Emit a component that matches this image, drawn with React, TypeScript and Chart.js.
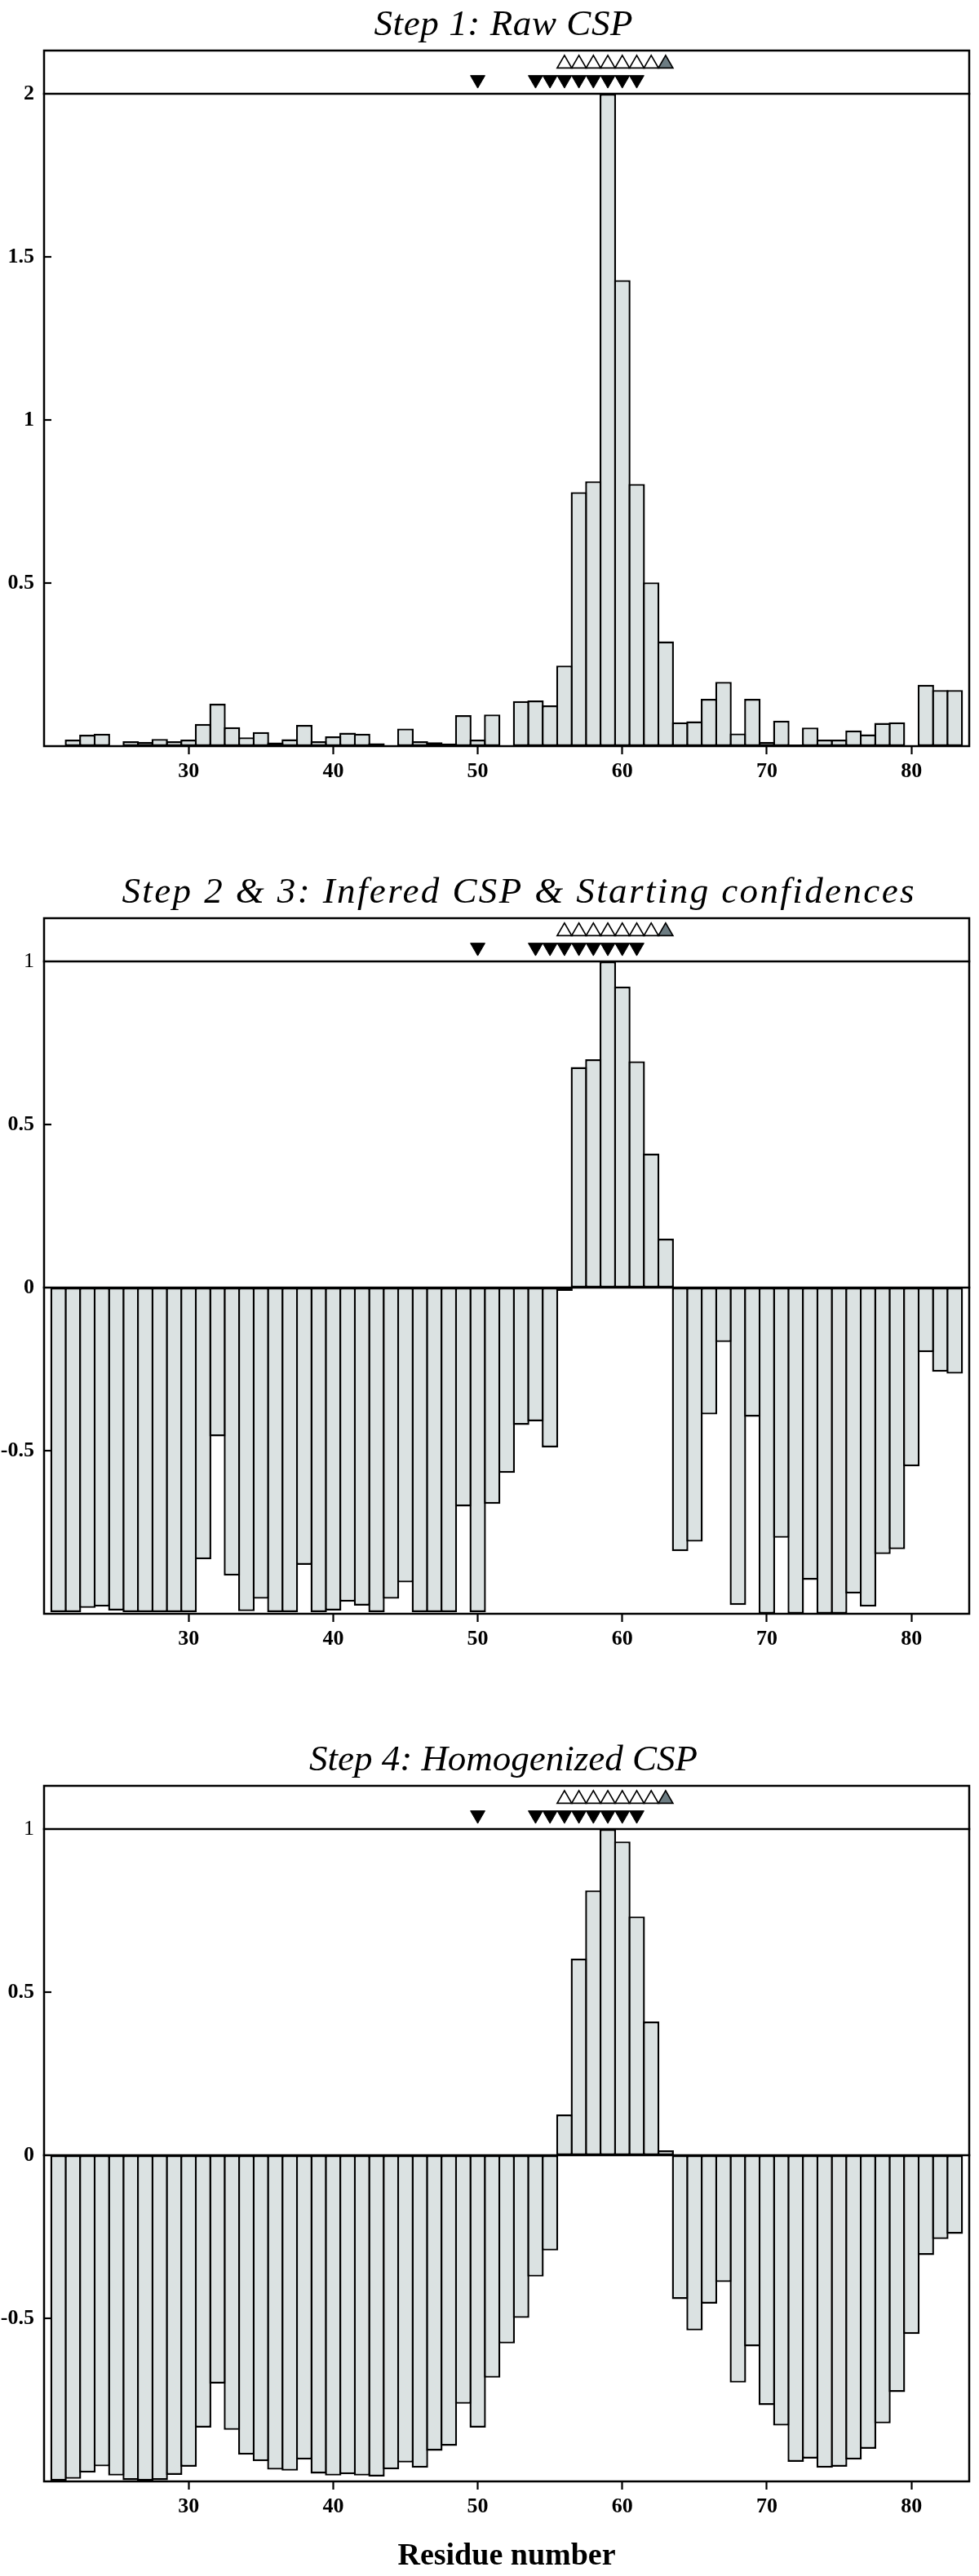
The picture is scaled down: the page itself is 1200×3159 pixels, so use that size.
import React, { useEffect, useRef } from 'react';
import { Chart, registerables } from 'chart.js';

Chart.register(...registerables);

// ---------------- data ----------------
const RESIDUES = [
  21, 22, 23, 24, 25, 26, 27, 28, 29, 30,
  31, 32, 33, 34, 35, 36, 37, 38, 39, 40,
  41, 42, 43, 44, 45, 46, 47, 48, 49, 50,
  51, 52, 53, 54, 55, 56, 57, 58, 59, 60,
  61, 62, 63, 64, 65, 66, 67, 68, 69, 70,
  71, 72, 73, 74, 75, 76, 77, 78, 79, 80,
  81, 82, 83,
];

// Step 1: raw chemical shift perturbation (null = no data)
const RAW_CSP: (number | null)[] = [
  null, 0.020, 0.035, 0.038, null, 0.015, 0.013, 0.022, 0.015, 0.020,
  0.068, 0.130, 0.058, 0.027, 0.043, 0.011, 0.021, 0.065, 0.015, 0.030,
  0.041, 0.038, 0.009, null, 0.054, 0.015, 0.012, 0.008, 0.095, 0.020,
  0.097, null, 0.138, 0.140, 0.125, 0.247, 0.779, 0.812, 2.000, 1.429,
  0.804, 0.502, 0.321, 0.073, 0.076, 0.145, 0.197, 0.039, 0.145, 0.013,
  0.078, 0.005, 0.057, 0.020, 0.020, 0.048, 0.036, 0.071, 0.073, null,
  0.188, 0.172, 0.172,
];

// Step 2 & 3: inferred CSP & starting confidences
const INFERRED_CSP: number[] = [
  -0.995, -0.995, -0.982, -0.978, -0.990, -0.995, -0.995, -0.995, -0.995, -0.995,
  -0.833, -0.456, -0.883, -0.992, -0.954, -0.995, -0.995, -0.850, -0.995, -0.990,
  -0.963, -0.975, -0.995, -0.954, -0.904, -0.995, -0.995, -0.995, -0.671, -0.995,
  -0.663, -0.568, -0.421, -0.410, -0.490, -0.010, 0.676, 0.700, 1.000, 0.923,
  0.694, 0.411, 0.150, -0.808, -0.779, -0.389, -0.167, -0.973, -0.396, -1.000,
  -0.767, -1.000, -0.896, -1.000, -1.000, -0.938, -0.978, -0.817, -0.802, -0.548,
  -0.198, -0.258, -0.264,
];

// Step 4: homogenized CSP
const HOMOGENIZED_CSP: number[] = [
  -0.998, -0.992, -0.973, -0.954, -0.982, -0.996, -0.998, -0.996, -0.980, -0.955,
  -0.835, -0.700, -0.842, -0.918, -0.938, -0.964, -0.967, -0.933, -0.976, -0.982,
  -0.978, -0.982, -0.985, -0.963, -0.942, -0.958, -0.906, -0.891, -0.762, -0.835,
  -0.682, -0.577, -0.499, -0.372, -0.292, 0.125, 0.603, 0.812, 1.000, 0.962,
  0.732, 0.410, 0.015, -0.441, -0.537, -0.455, -0.389, -0.697, -0.586, -0.766,
  -0.829, -0.940, -0.930, -0.958, -0.955, -0.933, -0.900, -0.822, -0.726, -0.548,
  -0.306, -0.257, -0.241,
];

const X_TICKS = [30, 40, 50, 60, 70, 80];
const Y_TICKS_RAW = [0.5, 1, 1.5, 2];
const Y_TICKS_SIGNED = [-0.5, 0, 0.5, 1];

// annotation markers shown in the band above each plot
const DOWN_MARKERS = [50, 54, 55, 56, 57, 58, 59, 60, 61];
const UP_MARKERS = [56, 57, 58, 59, 60, 61, 62, 63];
const UP_MARKERS_HIGHLIGHT = [63];

const TITLES = [
  'Step 1: Raw CSP',
  'Step 2 & 3: Infered CSP & Starting confidences',
  'Step 4: Homogenized CSP',
];
const X_AXIS_TITLE = 'Residue number';

// ---------------- layout / style ----------------
const X_MIN = 20;
const X_MAX = 84;
const BAND = 0.1325; // headroom above the reference line, in value units
const UP_LEVEL = 0.092; // marker rows above the reference line
const DOWN_LEVEL = 0.043;

const PAGE_W = 1200;
const AREA_TOP = 62;
const AREA_BOTTOM = 915;
const AREA_LEFT = 54;
const AREA_RIGHT = 1194;
const TITLE_BASELINE = 43;

const BAR_FILL = '#dbe2e2';
const MARKER_GRAY = '#6c7c82';
const BAR_BORDER = 2.4;
const FONT = '"Liberation Serif", "Times New Roman", serif';

type PanelSpec = {
  title: string;
  titleSpacing: number;
  titleShift: number;
  values: (number | null)[];
  yMin: number;
  refLine: number;
  yTicks: number[];
  zeroLine: boolean;
  refLabelBold: boolean;
  top: number;
  height: number;
  xTitle: boolean;
};

const PANELS: PanelSpec[] = [
  { title: TITLES[0], titleSpacing: 0.6, titleShift: -4, values: RAW_CSP, yMin: 0, refLine: 2, yTicks: Y_TICKS_RAW, zeroLine: false, refLabelBold: true, top: 0, height: 1064, xTitle: false },
  { title: TITLES[1], titleSpacing: 2.4, titleShift: 14, values: INFERRED_CSP, yMin: -1, refLine: 1, yTicks: Y_TICKS_SIGNED, zeroLine: true, refLabelBold: false, top: 1064, height: 1064, xTitle: false },
  { title: TITLES[2], titleSpacing: 0, titleShift: -4, values: HOMOGENIZED_CSP, yMin: -1, refLine: 1, yTicks: Y_TICKS_SIGNED, zeroLine: true, refLabelBold: false, top: 2128, height: 1031, xTitle: true },
];

const framePlugin = {
  id: 'cspFrame',
  afterDatasetsDraw(chart: any, _args: any, opts: any) {
    const { ctx, chartArea: a, scales } = chart;
    const y = scales.y;
    ctx.save();
    ctx.strokeStyle = '#000';
    ctx.lineWidth = 2.5;
    ctx.lineCap = 'square';
    ctx.strokeRect(a.left, a.top, a.right - a.left, a.bottom - a.top);
    const hline = (v: number) => {
      const p = y.getPixelForValue(v);
      ctx.beginPath();
      ctx.moveTo(a.left, p);
      ctx.lineTo(a.right, p);
      ctx.stroke();
    };
    hline(opts.refLine);
    if (opts.zeroLine) hline(0);
    ctx.lineWidth = 2.2;
    ctx.lineCap = 'butt';
    for (const v of opts.yTicks) {
      if (v === opts.refLine || v === 0) continue;
      const p = y.getPixelForValue(v);
      ctx.beginPath();
      ctx.moveTo(a.left, p);
      ctx.lineTo(a.left + 9, p);
      ctx.stroke();
    }
    ctx.restore();
  },
};

const titlePlugin = {
  id: 'cspTitle',
  afterDraw(chart: any, _args: any, opts: any) {
    const { ctx, chartArea: a } = chart;
    ctx.save();
    ctx.font = `italic 45px ${FONT}`;
    ctx.fillStyle = '#000';
    ctx.textAlign = 'center';
    ctx.textBaseline = 'alphabetic';
    if ('letterSpacing' in ctx) (ctx as any).letterSpacing = `${opts.spacing}px`;
    ctx.fillText(opts.text, (a.left + a.right) / 2 + opts.spacing / 2 + opts.shift, TITLE_BASELINE);
    ctx.restore();
  },
};

function Panel({ spec }: { spec: PanelSpec }) {
  const ref = useRef<HTMLCanvasElement>(null);

  useEffect(() => {
    const canvas = ref.current;
    if (!canvas) return;
    const unitPx = (AREA_RIGHT - AREA_LEFT) / (X_MAX - X_MIN);
    const bars = RESIDUES.map((r, i) => ({ x: r, y: spec.values[i] })).filter((p) => p.y !== null);
    const upPts = UP_MARKERS.map((r) => ({ x: r, y: spec.refLine + UP_LEVEL }));
    const downPts = DOWN_MARKERS.map((r) => ({ x: r, y: spec.refLine + DOWN_LEVEL }));

    const chart = new Chart(canvas, {
      type: 'bar',
      data: {
        datasets: [
          {
            type: 'scatter',
            data: upPts,
            pointStyle: 'triangle',
            pointRadius: 10.3,
            pointHoverRadius: 10.3,
            pointRotation: 0,
            pointBackgroundColor: UP_MARKERS.map((r) => (UP_MARKERS_HIGHLIGHT.includes(r) ? MARKER_GRAY : '#ffffff')),
            pointBorderColor: '#000',
            pointBorderWidth: 1.7,
          } as any,
          {
            type: 'scatter',
            data: downPts,
            pointStyle: 'triangle',
            pointRadius: 10.3,
            pointHoverRadius: 10.3,
            pointRotation: 180,
            pointBackgroundColor: '#000',
            pointBorderColor: '#000',
            pointBorderWidth: 1,
          } as any,
          {
            type: 'bar',
            data: bars as any,
            backgroundColor: BAR_FILL,
            borderColor: '#000',
            borderWidth: BAR_BORDER,
            borderSkipped: false,
            categoryPercentage: 1,
            barPercentage: 1 + BAR_BORDER / unitPx,
          } as any,
        ],
      },
      options: {
        animation: false,
        responsive: false,
        maintainAspectRatio: false,
        events: [],
        layout: { padding: { top: AREA_TOP, left: 0, right: PAGE_W - AREA_RIGHT, bottom: 0 } },
        plugins: {
          legend: { display: false },
          tooltip: { enabled: false },
          title: { display: false },
          cspFrame: { refLine: spec.refLine, zeroLine: spec.zeroLine, yTicks: spec.yTicks },
          cspTitle: { text: spec.title, spacing: spec.titleSpacing, shift: spec.titleShift },
        } as any,
        scales: {
          x: {
            type: 'linear',
            min: X_MIN,
            max: X_MAX,
            offset: false,
            afterBuildTicks: (s: any) => {
              s.ticks = X_TICKS.map((v) => ({ value: v }));
            },
            afterFit: (s: any) => {
              s.height = spec.height - AREA_BOTTOM;
            },
            grid: {
              display: true,
              offset: false,
              drawOnChartArea: false,
              drawTicks: true,
              tickLength: 10,
              tickWidth: 2.2,
              tickColor: '#000',
              color: '#000',
            },
            border: { display: false },
            ticks: {
              autoSkip: false,
              maxRotation: 0,
              padding: 6,
              color: '#000',
              font: { family: FONT, size: 26, weight: 'bold' },
              callback: (v: any) => String(v),
            },
            title: {
              display: spec.xTitle,
              text: X_AXIS_TITLE,
              color: '#000',
              font: { family: FONT, size: 38, weight: 'bold' },
              padding: { top: 0, bottom: 1 },
            },
          },
          y: {
            type: 'linear',
            min: spec.yMin,
            max: spec.refLine + BAND,
            afterBuildTicks: (s: any) => {
              s.ticks = spec.yTicks.map((v) => ({ value: v }));
            },
            afterFit: (s: any) => {
              s.width = AREA_LEFT;
            },
            grid: { display: false, drawTicks: false },
            border: { display: false },
            ticks: {
              padding: 12,
              color: '#000',
              font: (ctx: any) => ({
                family: FONT,
                size: 26,
                weight: ctx.tick && ctx.tick.value === spec.refLine && !spec.refLabelBold ? 'normal' : 'bold',
              }),
              callback: (v: any) => String(v),
            },
          },
        } as any,
      },
      plugins: [framePlugin as any, titlePlugin as any],
    });
    return () => chart.destroy();
  }, [spec]);

  return (
    <canvas
      ref={ref}
      width={PAGE_W}
      height={spec.height}
      style={{ position: 'absolute', left: 0, top: spec.top, width: PAGE_W, height: spec.height }}
    />
  );
}

export default function App() {
  return (
    <div style={{ position: 'absolute', left: 0, top: 0, width: PAGE_W, height: 3159, background: '#ffffff' }}>
      {PANELS.map((p, i) => (
        <Panel key={i} spec={p} />
      ))}
    </div>
  );
}
